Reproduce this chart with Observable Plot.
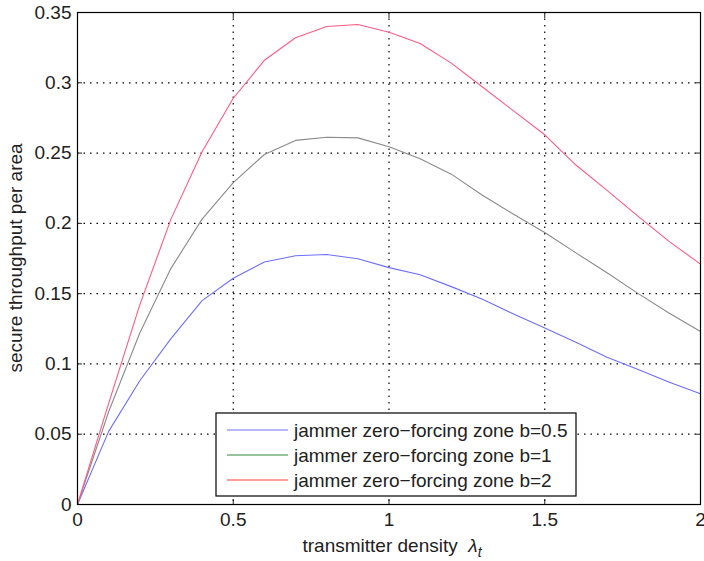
<!DOCTYPE html>
<html>
<head>
<meta charset="utf-8">
<script src="https://cdn.jsdelivr.net/npm/d3@7"></script>
<script src="https://cdn.jsdelivr.net/npm/@observablehq/plot@0.6"></script>
<style>
  html, body { margin: 0; padding: 0; background: #fff; }
  #chart { position: relative; width: 704px; height: 561px; overflow: hidden; }
</style>
</head>
<body>
<div id="chart"></div>
<script>
const lambda = [0, 0.1, 0.2, 0.3, 0.4, 0.5, 0.6, 0.7, 0.8, 0.9, 1.0, 1.1, 1.2, 1.3, 1.4, 1.5, 1.6, 1.7, 1.8, 1.9, 2.0];
const b05 = [0, 0.052, 0.088, 0.118, 0.145, 0.161, 0.1725, 0.177, 0.1778, 0.1748, 0.1685, 0.1635, 0.155, 0.146, 0.1355, 0.1255, 0.1155, 0.1048, 0.096, 0.087, 0.0788];
const b1  = [0, 0.066, 0.122, 0.168, 0.203, 0.229, 0.249, 0.259, 0.2613, 0.2608, 0.2545, 0.246, 0.235, 0.220, 0.2065, 0.1935, 0.179, 0.1648, 0.150, 0.136, 0.123];
const b2  = [0, 0.072, 0.142, 0.203, 0.251, 0.289, 0.316, 0.332, 0.340, 0.3415, 0.336, 0.328, 0.314, 0.297, 0.280, 0.263, 0.2415, 0.2235, 0.205, 0.187, 0.171];
const seriesNames = ["jammer zero\u2212forcing zone b=0.5", "jammer zero\u2212forcing zone b=1", "jammer zero\u2212forcing zone b=2"];
const lineColors = ["#6e6eff", "#8a8a8a", "#ff5a85"];
const legendColors = ["#6e6eff", "#2e8b3a", "#ff3a3a"];
const xTicks = [0, 0.5, 1, 1.5, 2];
const xTickLabels = ["0", "0.5", "1", "1.5", "2"];
const yTicks = [0, 0.05, 0.1, 0.15, 0.2, 0.25, 0.3, 0.35];
const yTickLabels = ["0", "0.05", "0.1", "0.15", "0.2", "0.25", "0.3", "0.35"];
const xGrid = [0.5, 1, 1.5];
const yGrid = [0.05, 0.1, 0.15, 0.2, 0.25, 0.3];

const allSeries = [b05, b1, b2];
const rows = [];
allSeries.forEach((vals, s) => {
  vals.forEach((v, i) => rows.push({x: lambda[i], y: v, s: seriesNames[s]}));
});

const FONT = "'Liberation Sans', Arial, Helvetica, sans-serif";

const plot = Plot.plot({
  width: 704,
  height: 561,
  marginLeft: 77,
  marginRight: 4,
  marginTop: 12,
  marginBottom: 57,
  style: {fontFamily: FONT, fontSize: "19px", color: "#222", background: "white", overflow: "visible"},
  x: {domain: [0, 2]},
  y: {domain: [0, 0.35]},
  color: {domain: seriesNames, range: lineColors},
  marks: [
    Plot.ruleX(xGrid, {stroke: "black", strokeWidth: 1.2, strokeDasharray: "1.5,5"}),
    Plot.ruleY(yGrid, {stroke: "black", strokeWidth: 1.2, strokeDasharray: "1.5,5"}),
    Plot.line(rows, {x: "x", y: "y", z: "s", stroke: "s", strokeWidth: 1.1}),
    Plot.axisX({anchor: "bottom", ticks: xTicks, tickSize: -5, tickPadding: 13, label: null, fontSize: 19,
      tickFormat: d => xTickLabels[xTicks.indexOf(d)]}),
    Plot.axisX({anchor: "top", ticks: xTicks, tickSize: -5, tickFormat: () => "", label: null}),
    Plot.axisY({anchor: "left", ticks: yTicks, tickSize: -5, tickPadding: 11, label: null, fontSize: 19,
      tickFormat: d => yTickLabels[yTicks.indexOf(d)]}),
    Plot.axisY({anchor: "right", ticks: yTicks, tickSize: -5, tickFormat: () => "", label: null}),
    Plot.frame({stroke: "black", strokeWidth: 1.2})
  ]
});

document.getElementById("chart").appendChild(plot);

const svg = d3.select(plot);

// Axis titles
svg.append("text")
  .attr("transform", "translate(22,258) rotate(-90)")
  .attr("text-anchor", "middle")
  .attr("font-family", FONT)
  .attr("font-size", 19)
  .attr("fill", "#222")
  .text("secure throughput per area");

const xl = svg.append("text")
  .attr("x", 392)
  .attr("y", 552)
  .attr("text-anchor", "middle")
  .attr("font-family", FONT)
  .attr("font-size", 19)
  .attr("fill", "#222");
xl.append("tspan").text("transmitter density \u00a0");
xl.append("tspan").attr("font-style", "italic").text("\u03bb");
xl.append("tspan").attr("font-style", "italic").attr("font-size", 14).attr("dy", 5).text("t");

// Legend
const lg = svg.append("g").attr("text-anchor", "start");
lg.append("rect")
  .attr("x", 216).attr("y", 413).attr("width", 360).attr("height", 83)
  .attr("fill", "white").attr("stroke", "black").attr("stroke-width", 1.2);
seriesNames.forEach((name, i) => {
  const y = 430 + i * 25;
  lg.append("line").attr("x1", 227).attr("x2", 288).attr("y1", y).attr("y2", y)
    .attr("stroke", legendColors[i]).attr("stroke-width", 1.2);
  lg.append("text").attr("x", 294).attr("y", y).attr("dy", "0.36em")
    .attr("text-anchor", "start")
    .attr("font-family", FONT).attr("font-size", 19).attr("fill", "#222")
    .text(name);
});
</script>
</body>
</html>
